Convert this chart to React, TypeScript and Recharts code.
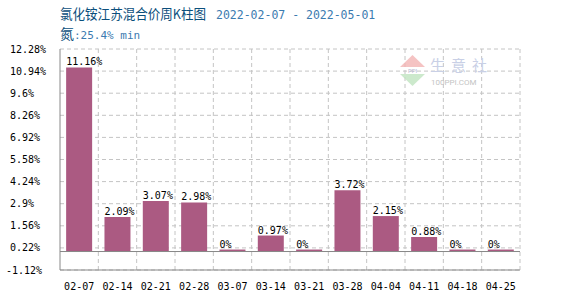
import React from 'react';
import { BarChart, Bar, XAxis, YAxis, CartesianGrid, ReferenceLine, LabelList } from 'recharts';

// weekly change of ammonium chloride price, Jiangsu mixed
const weeks = ['02-07', '02-14', '02-21', '02-28', '03-07', '03-14', '03-21', '03-28', '04-04', '04-11', '04-18', '04-25'];
const changes = [11.16, 2.09, 3.07, 2.98, 0, 0.97, 0, 3.72, 2.15, 0.88, 0, 0];
const yTicks = [-1.12, 0.22, 1.56, 2.9, 4.24, 5.58, 6.92, 8.26, 9.6, 10.94, 12.28];

const data = weeks.map((w, i) => ({ week: w, change: changes[i] }));

const MONO = '"DejaVu Sans Mono", monospace';
const CJK = '"Noto Sans CJK SC", sans-serif';

function YTick(props: any) {
  const { y, payload } = props;
  const v = payload.value;
  return (
    <text x={v < 0 ? 6 : 10} y={y} dy={3.5} fontSize={10} fontFamily={MONO} fill="#000" textAnchor="start">
      {v}%
    </text>
  );
}

function BarValue(props: any) {
  const { x, y, value } = props;
  return (
    <text x={x} y={y - 2} fontSize={10} fontFamily={MONO} fill="#000" textAnchor="start">
      {value}%
    </text>
  );
}

export default function App() {
  return (
    <div style={{ position: 'absolute', left: 0, top: 0, width: 570, height: 300, background: '#fff' }}>
      <BarChart width={570} height={300} data={data} margin={{ top: 49, right: 50, bottom: 0, left: 0 }} barCategoryGap="16%">
        <CartesianGrid
          stroke="#c4c4c4"
          strokeDasharray="4 3"
          verticalCoordinatesGenerator={({ offset }: any) =>
            weeks.map((_, i) => offset.left + (offset.width * (i + 1)) / weeks.length)
          }
        />
        <XAxis
          dataKey="week"
          height={30}
          axisLine={{ stroke: '#888' }}
          tickLine={false}
          tickSize={0}
          tickMargin={13}
          tick={{ fontSize: 10, fontFamily: MONO, fill: '#000' }}
          interval={0}
        />
        <YAxis
          width={60}
          domain={[-1.12, 12.28]}
          ticks={yTicks}
          axisLine={{ stroke: '#888' }}
          tickLine={false}
          tick={<YTick />}
          interval={0}
        />
        <ReferenceLine y={0} stroke="#888" />
        <Bar dataKey="change" fill="#ab5a82" minPointSize={2} isAnimationActive={false}>
          <LabelList dataKey="change" content={<BarValue />} />
        </Bar>
      </BarChart>
      <svg width={570} height={300} style={{ position: 'absolute', left: 0, top: 0, pointerEvents: 'none' }}>
        <text x={60} y={19} fontSize={13.5} fontFamily={CJK} fill="#0b4f7c" textLength={146} lengthAdjust="spacingAndGlyphs">
          氯化铵江苏混合价周K柱图
        </text>
        <text x={216} y={19} fontSize={11.5} fontFamily={MONO} fill="#3b7bb0">2022-02-07 - 2022-05-01</text>
        <text x={60} y={39} fontSize={14} fontFamily={CJK} fill="#0b4f7c">氮</text>
        <text x={74} y={39} fontSize={11} fontFamily={MONO} fill="#3b7bb0">:25.4% min</text>
        {/* watermark */}
        <polygon points="400,67 425,67 412.5,55" fill="#f3b4b4" opacity={0.8} />
        <polygon points="400,74 425,74 412.5,86" fill="#bfe3bf" opacity={0.8} />
        <text x={412.5} y={73} fontSize={6} fontFamily="Roboto, sans-serif" fill="#b8b8d0" textAnchor="middle">PPI</text>
        <text x={430} y={71} fontSize={15} fontFamily={CJK} fill="#c9d0e6" letterSpacing={6}>生意社</text>
        <text x={431} y={85} fontSize={8} fontFamily="Roboto, sans-serif" fill="#c4c4c4">100PPI.COM</text>
      </svg>
    </div>
  );
}
